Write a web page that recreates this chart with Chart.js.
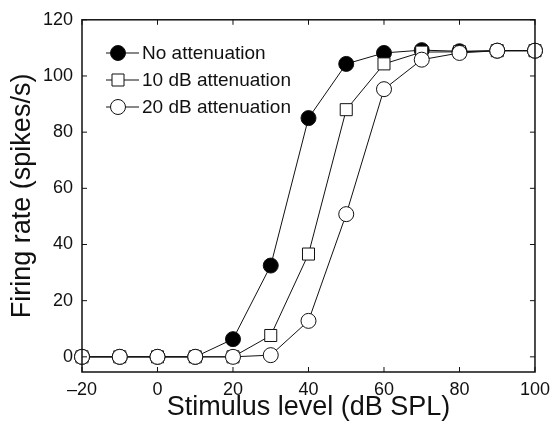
<!DOCTYPE html>
<html>
<head>
<meta charset="utf-8">
<script src="https://cdn.jsdelivr.net/npm/chart.js@4.4.0/dist/chart.umd.min.js"></script>
<style>
  html, body { margin: 0; padding: 0; background: #fff; }
  #wrap { width: 557px; height: 421px; }
</style>
</head>
<body>
<div id="wrap"><canvas id="chart-rate" width="557" height="421"></canvas></div>
<script>
// --- Data ---
const levels = [-20, -10, 0, 10, 20, 30, 40, 50, 60, 70, 80, 90, 100];
const noAtten = [0, 0, 0, 0, 6.3, 32.5, 85, 104.3, 108.2, 109.2, 108.8, 109, 109];
const atten10 = [0, 0, 0, 0, 0, 7.6, 36.6, 88, 104.3, 108.5, 108.6, 109, 109];
const atten20 = [0, 0, 0, 0, 0, 0.6, 12.8, 50.8, 95.3, 105.8, 108.2, 109, 109];
const xTicks = [-20, 0, 20, 40, 60, 80, 100];
const yTicks = [0, 20, 40, 60, 80, 100, 120];
const seriesNames = ['No attenuation', '10 dB attenuation', '20 dB attenuation'];

const FONT = '"Liberation Sans", Arial, Helvetica, sans-serif';
const INK = '#111';

const toPoints = vals => vals.map((v, i) => ({ x: levels[i], y: v }));

// --- Box, inward ticks and in-plot legend ---
const framePlugin = {
  id: 'frame',
  afterDraw(chart) {
    const { ctx, chartArea: a, scales } = chart;
    const tl = 5;
    ctx.save();
    ctx.strokeStyle = INK;
    ctx.lineWidth = 1.5;
    ctx.strokeRect(a.left, a.top, a.right - a.left, a.bottom - a.top);
    ctx.lineWidth = 1;
    ctx.beginPath();
    xTicks.forEach(t => {
      const px = scales.x.getPixelForValue(t);
      ctx.moveTo(px, a.bottom); ctx.lineTo(px, a.bottom - tl);
      ctx.moveTo(px, a.top); ctx.lineTo(px, a.top + tl);
    });
    yTicks.forEach(t => {
      const py = scales.y.getPixelForValue(t);
      ctx.moveTo(a.left, py); ctx.lineTo(a.left + tl, py);
      ctx.moveTo(a.right, py); ctx.lineTo(a.right - tl, py);
    });
    ctx.stroke();

    // legend
    const rows = [53, 80, 107];
    const styles = [
      { shape: 'circle', fill: '#000' },
      { shape: 'rect', fill: '#fff' },
      { shape: 'circle', fill: '#fff' },
    ];
    rows.forEach((y, i) => {
      ctx.beginPath();
      ctx.moveTo(106, y); ctx.lineTo(139, y);
      ctx.strokeStyle = INK;
      ctx.lineWidth = 1;
      ctx.stroke();
      ctx.beginPath();
      if (styles[i].shape === 'circle') ctx.arc(118, y, 7.5, 0, Math.PI * 2);
      else ctx.rect(118 - 6, y - 6, 12, 12);
      ctx.fillStyle = styles[i].fill;
      ctx.fill();
      ctx.stroke();
      ctx.fillStyle = INK;
      ctx.font = '19px ' + FONT;
      ctx.textAlign = 'left';
      ctx.textBaseline = 'middle';
      ctx.fillText(seriesNames[i], 142, y + 1);
    });
    ctx.restore();
  }
};

const base = {
  showLine: true,
  borderColor: INK,
  borderWidth: 1,
  pointBorderColor: INK,
  pointBorderWidth: 1,
  pointHoverRadius: 8,
  clip: false,
};

new Chart(document.getElementById('chart-rate').getContext('2d'), {
  type: 'scatter',
  data: {
    datasets: [
      { ...base, label: seriesNames[2], data: toPoints(atten20), pointStyle: 'circle', pointRadius: 7.5, pointBackgroundColor: '#fff', order: 0 },
      { ...base, label: seriesNames[1], data: toPoints(atten10), pointStyle: 'rect', pointRadius: 8.5, pointBackgroundColor: '#fff', order: 1 },
      { ...base, label: seriesNames[0], data: toPoints(noAtten), pointStyle: 'circle', pointRadius: 7.5, pointBackgroundColor: '#000', order: 2 },
    ],
  },
  options: {
    responsive: false,
    animation: false,
    layout: { padding: { top: 19, right: 18, left: 0, bottom: 0 } },
    plugins: { legend: { display: false }, tooltip: { enabled: false } },
    scales: {
      x: {
        type: 'linear',
        min: -20,
        max: 100,
        afterBuildTicks: s => { s.ticks = xTicks.map(v => ({ value: v })); },
        afterFit: s => { s.height = 49; },
        grid: { display: false, drawTicks: false },
        border: { display: false },
        ticks: {
          color: INK,
          padding: 7,
          font: { family: FONT, size: 18 },
          callback: v => (v < 0 ? '\u2013' + Math.abs(v) : String(v)),
        },
        title: {
          display: true,
          text: 'Stimulus level (dB SPL)',
          color: INK,
          font: { family: FONT, size: 27, lineHeight: 1 },
          padding: { top: 0, bottom: 0 },
        },
      },
      y: {
        type: 'linear',
        min: -5.4,
        max: 120,
        afterBuildTicks: s => { s.ticks = yTicks.map(v => ({ value: v })); },
        afterFit: s => { s.width = 82; },
        grid: { display: false, drawTicks: false },
        border: { display: false },
        ticks: {
          color: INK,
          padding: 9,
          font: { family: FONT, size: 18 },
        },
        title: {
          display: true,
          text: 'Firing rate (spikes/s)',
          color: INK,
          font: { family: FONT, size: 27, lineHeight: 1 },
          padding: { top: 9, bottom: 0 },
        },
      },
    },
  },
  plugins: [framePlugin],
});
</script>
</body>
</html>
